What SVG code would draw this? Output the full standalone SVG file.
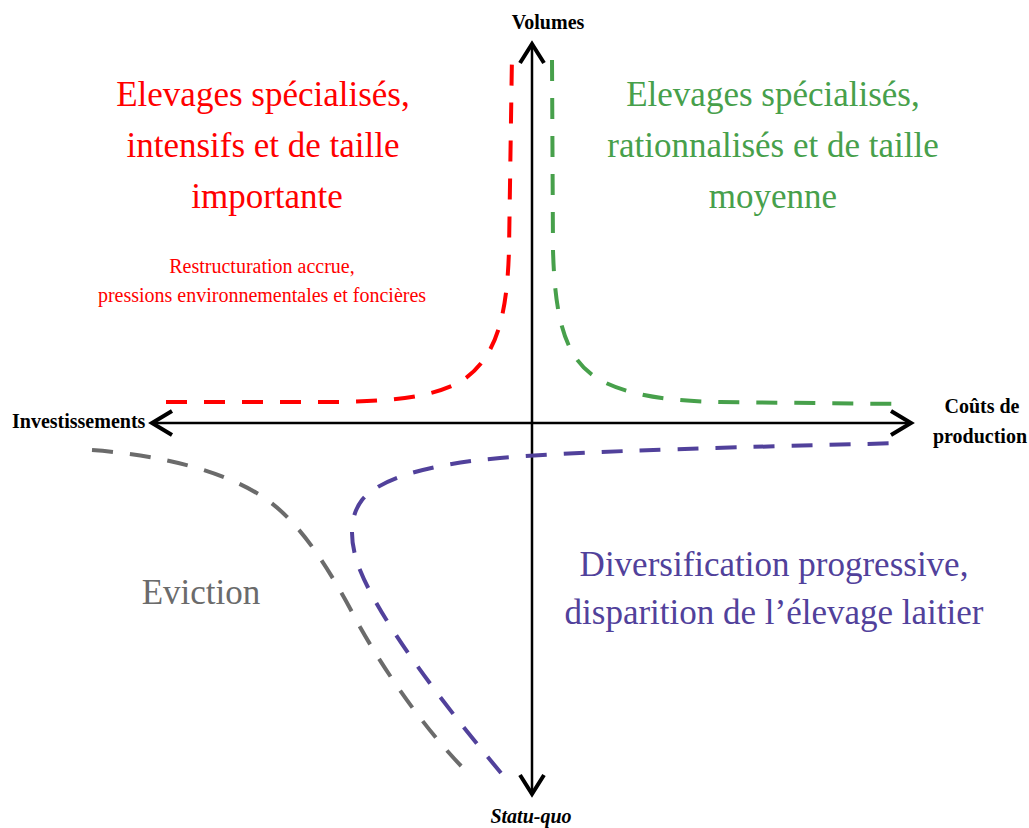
<svg xmlns="http://www.w3.org/2000/svg" width="1029" height="828" viewBox="0 0 1029 828">
<style>
.big{font-family:"Liberation Serif","Times New Roman",serif;font-size:35px;text-anchor:middle}
.small{font-family:"Liberation Serif","Times New Roman",serif;font-size:20px;text-anchor:middle}
.axl{font-family:"Liberation Serif","Times New Roman",serif;font-size:20px;font-weight:bold;fill:#000}
.axis{stroke:#000;stroke-width:2.5;fill:none}
.head{stroke:#000;stroke-width:4;fill:none;stroke-linecap:butt;stroke-linejoin:miter}
.curve{fill:none;stroke-width:4;stroke-dasharray:21 17}
</style>
<rect width="1029" height="828" fill="#fff"/>
<g id="connectors">
<line class="axis" x1="532" y1="45" x2="532" y2="793"/>
<line class="axis" x1="152" y1="423" x2="910" y2="423"/>
<path class="head" d="M520,63 L532,44 L544,63"/>
<path class="head" d="M520,775 L532,794 L544,775"/>
<path class="head" d="M172,411 L152,423 L172,435"/>
<path class="head" d="M891,411 L911,423 L891,435"/>
<path class="curve" stroke="#ff0000" d="M166,402 L340,402 C390,401 430,398 460,382 C495,360 507,320 509,250 L512,55"/>
<path class="curve" stroke="#47a04b" d="M552,60 L553,250 C555,320 565,360 600,380 C630,396 670,401 720,402 L903,404"/>
<path class="curve" stroke="#51419b" d="M501,773 C440,700 380,620 360,570 C350,545 348,518 362,500 C380,478 430,464 500,458 C600,450 750,447 902,443"/>
<path class="curve" stroke="#6b6b6b" d="M92,450 C160,455 220,470 260,495 C300,520 330,570 360,627 C390,680 430,735 467,772"/>
</g>
<g id="label-volumes"><text class="axl" x="548" y="29" text-anchor="middle">Volumes</text></g>
<g id="label-investissements"><text class="axl" x="12" y="428">Investissements</text></g>
<g id="label-couts"><text class="axl" x="982" y="413" text-anchor="middle">Coûts de</text><text class="axl" x="980" y="443" text-anchor="middle">production</text></g>
<g id="label-statuquo"><text class="axl" x="531" y="823" text-anchor="middle" font-style="italic">Statu-quo</text></g>
<g id="node-red" fill="#ff0000">
<text class="big" x="263" y="106">Elevages spécialisés,</text>
<text class="big" x="263" y="157">intensifs et de taille</text>
<text class="big" x="267" y="208">importante</text>
<text class="small" x="262" y="273">Restructuration accrue,</text>
<text class="small" x="262" y="302">pressions environnementales et foncières</text>
</g>
<g id="node-green" fill="#47a04b">
<text class="big" x="773" y="106">Elevages spécialisés,</text>
<text class="big" x="773" y="157">rationnalisés et de taille</text>
<text class="big" x="773" y="208">moyenne</text>
</g>
<g id="node-purple" fill="#51419b">
<text class="big" x="774" y="576">Diversification progressive,</text>
<text class="big" x="774" y="624">disparition de l’élevage laitier</text>
</g>
<g id="node-gray" fill="#6b6b6b">
<text class="big" x="201" y="604">Eviction</text>
</g>
</svg>
